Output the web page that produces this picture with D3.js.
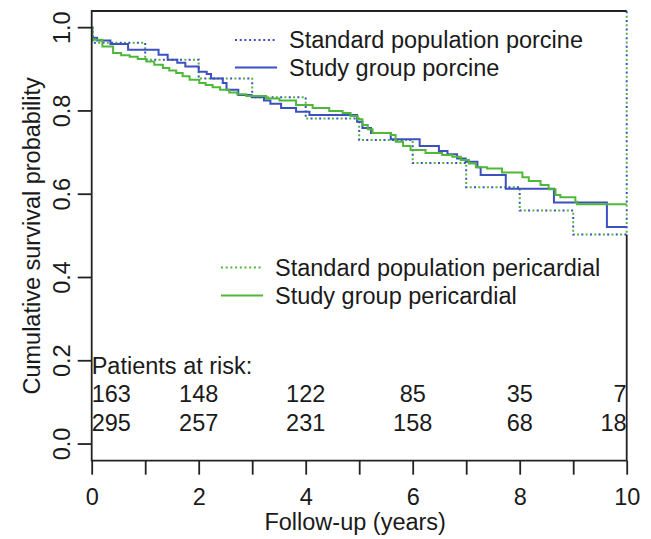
<!DOCTYPE html>
<html>
<head>
<meta charset="utf-8">
<script src="https://cdn.jsdelivr.net/npm/d3@7"></script>
<style>
  body { margin: 0; background: #fff; }
  svg { font-family: "Liberation Sans", Arial, sans-serif; }
</style>
</head>
<body>
<svg id="chart" width="651" height="539"></svg>
<script>
// Kaplan-Meier steps, study groups
var porcineTimes = [0, 0.01, 0.1, 0.35, 0.68, 1.25, 1.42, 1.6, 1.75, 2.0, 2.15, 2.23, 2.45, 2.52, 2.74, 2.99, 3.22, 3.34, 3.54, 3.82, 4.07, 4.96, 5.06, 5.22, 5.59, 6.13, 6.49, 6.65, 6.83, 6.99, 7.21, 7.27, 7.74, 8.64, 9.63, 10];
var porcineSurv  = [1.0, 0.976, 0.969, 0.961, 0.947, 0.935, 0.923, 0.916, 0.907, 0.894, 0.889, 0.878, 0.867, 0.851, 0.838, 0.833, 0.825, 0.817, 0.807, 0.798, 0.790, 0.774, 0.759, 0.747, 0.732, 0.716, 0.704, 0.696, 0.686, 0.678, 0.665, 0.646, 0.613, 0.580, 0.521, 0.521];

var pericTimes = [0, 0.01, 0.2, 0.4, 0.55, 0.71, 0.86, 1.02, 1.17, 1.33, 1.45, 1.58, 1.7, 1.83, 2.01, 2.13, 2.26, 2.4, 2.57, 2.72, 2.89, 3.26, 3.51, 3.82, 4.13, 4.44, 4.69, 4.84, 4.97, 5.06, 5.16, 5.25, 5.59, 5.68, 5.82, 5.96, 6.24, 6.55, 6.74, 6.9, 7.05, 7.18, 7.39, 7.67, 8.05, 8.17, 8.39, 8.54, 8.67, 8.76, 9.04, 9.07, 10];
var pericSurv  = [1.0, 0.971, 0.955, 0.939, 0.934, 0.930, 0.925, 0.919, 0.911, 0.903, 0.897, 0.891, 0.883, 0.875, 0.867, 0.862, 0.857, 0.851, 0.844, 0.840, 0.836, 0.830, 0.825, 0.814, 0.807, 0.800, 0.795, 0.788, 0.780, 0.766, 0.756, 0.747, 0.742, 0.726, 0.716, 0.706, 0.699, 0.694, 0.690, 0.682, 0.674, 0.665, 0.662, 0.652, 0.641, 0.632, 0.622, 0.612, 0.598, 0.593, 0.582, 0.576, 0.576];

// expected survival of matched standard population
var stdTimes = [0, 0.02, 1, 2, 3, 4, 5, 6, 7, 8, 9, 10];
var stdPorcine     = [1.0, 0.964, 0.923, 0.878, 0.833, 0.782, 0.730, 0.675, 0.617, 0.561, 0.503, 1.04];
var stdPericardial = [1.0, 0.964, 0.923, 0.878, 0.833, 0.782, 0.730, 0.675, 0.617, 0.561, 0.503, 1.04];

var riskYears = [0, 2, 4, 6, 8, 10];
var riskPorcine = [163, 148, 122, 85, 35, 7];
var riskPericardial = [295, 257, 231, 158, 68, 18];

var xTicks = [0, 1, 2, 3, 4, 5, 6, 7, 8, 9, 10];
var yTicks = [0, 0.2, 0.4, 0.6, 0.8, 1.0];

var blue = "#3c50c0", green = "#4fb83a";
var fs = "23.5px", ink = "#1a1a1a";

var svg = d3.select("#chart");

var x = d3.scaleLinear().domain([0, 10]).range([91.7, 626.7]);
var y = d3.scaleLinear().domain([-0.04, 1.04]).range([460.7, 11]);

var line = d3.line()
  .x(function (d) { return x(d[0]); })
  .y(function (d) { return y(d[1]); })
  .curve(d3.curveStepAfter);

function pairs(t, s) { return t.map(function (v, i) { return [v, s[i]]; }); }

// axes
var xAxis = svg.append("g")
  .attr("transform", "translate(0," + y.range()[0] + ")")
  .call(d3.axisBottom(x).tickValues(xTicks).tickSize(14).tickPadding(14)
    .tickFormat(function (d) { return d % 2 === 0 ? d : ""; }));
xAxis.select(".domain").remove();

var yAxis = svg.append("g")
  .attr("transform", "translate(" + x.range()[0] + ",0)")
  .call(d3.axisLeft(y).tickValues(yTicks).tickSize(14).tickFormat(d3.format(".1f")));
yAxis.select(".domain").remove();
yAxis.selectAll("text")
  .attr("x", null).attr("dy", null)
  .attr("text-anchor", "middle")
  .attr("transform", function (d) { return "translate(-22," + y(d) + ") rotate(-90)"; });
yAxis.selectAll(".tick").attr("transform", null);
yAxis.selectAll(".tick line").attr("transform", function (d) { return "translate(0," + y(d) + ")"; });

svg.selectAll(".tick line").attr("stroke", "#222").attr("stroke-width", 1.8);
svg.selectAll(".tick text").attr("fill", ink).style("font-size", fs);

// axis titles
svg.append("text")
  .attr("x", d3.mean(x.range()) - 4).attr("y", 530)
  .attr("text-anchor", "middle").style("font-size", fs).attr("fill", ink)
  .text("Follow-up (years)");
svg.append("text")
  .attr("transform", "translate(40," + d3.mean(y.range()) + ") rotate(-90)")
  .attr("text-anchor", "middle").style("font-size", fs).attr("fill", ink)
  .text("Cumulative survival probability");

// survival curves
svg.append("path").datum(pairs(stdTimes, stdPorcine))
  .attr("d", line).attr("fill", "none").attr("stroke", blue)
  .attr("stroke-width", 2).attr("stroke-dasharray", "2,6.6");
svg.append("path").datum(pairs(stdTimes, stdPericardial))
  .attr("d", line).attr("fill", "none").attr("stroke", green)
  .attr("stroke-width", 2).attr("stroke-dasharray", "2,6.6").attr("stroke-dashoffset", 4.3);
svg.append("path").datum(pairs(porcineTimes, porcineSurv))
  .attr("d", line).attr("fill", "none").attr("stroke", blue).attr("stroke-width", 2);
svg.append("path").datum(pairs(pericTimes, pericSurv))
  .attr("d", line).attr("fill", "none").attr("stroke", green).attr("stroke-width", 2);

// plot box (right side above last standard step is covered by the dotted line)
var x0 = x.range()[0], x1 = x.range()[1], yb = y.range()[0], yt = y.range()[1];
svg.append("path")
  .attr("d", "M" + x1 + "," + y(stdPorcine[stdPorcine.length - 2]) + "L" + x1 + "," + yb +
    "L" + x0 + "," + yb + "L" + x0 + "," + yt + "L" + x1 + "," + yt)
  .attr("fill", "none").attr("stroke", "#222").attr("stroke-width", 1.8);

// legends
function legend(lx, tx, rows) {
  rows.forEach(function (r) {
    svg.append("line").attr("x1", lx).attr("x2", lx + 42).attr("y1", r.y).attr("y2", r.y)
      .attr("stroke", r.color).attr("stroke-width", 2)
      .attr("stroke-dasharray", r.dotted ? "2,2.7" : null);
    svg.append("text").attr("x", tx).attr("y", r.y).attr("dy", "0.36em")
      .style("font-size", fs).attr("fill", ink).text(r.label);
  });
}
legend(235, 289, [
  { y: 40, color: blue, dotted: true, label: "Standard population porcine" },
  { y: 67.5, color: blue, dotted: false, label: "Study group porcine" }
]);
legend(221, 275, [
  { y: 267.5, color: green, dotted: true, label: "Standard population pericardial" },
  { y: 295.5, color: green, dotted: false, label: "Study group pericardial" }
]);

// patients at risk
svg.append("text").attr("x", x(0)).attr("y", 366).attr("dy", "0.36em")
  .style("font-size", fs).attr("fill", ink).text("Patients at risk:");
function riskRow(vals, cy) {
  svg.selectAll(null).data(vals).enter().append("text")
    .attr("x", function (d, i) { return x(riskYears[i]); })
    .attr("y", cy).attr("dy", "0.36em")
    .attr("text-anchor", function (d, i) { return i === 0 ? "start" : (i === vals.length - 1 ? "end" : "middle"); })
    .style("font-size", fs).attr("fill", ink)
    .text(function (d) { return d; });
}
riskRow(riskPorcine, 394);
riskRow(riskPericardial, 422.5);
</script>
</body>
</html>
